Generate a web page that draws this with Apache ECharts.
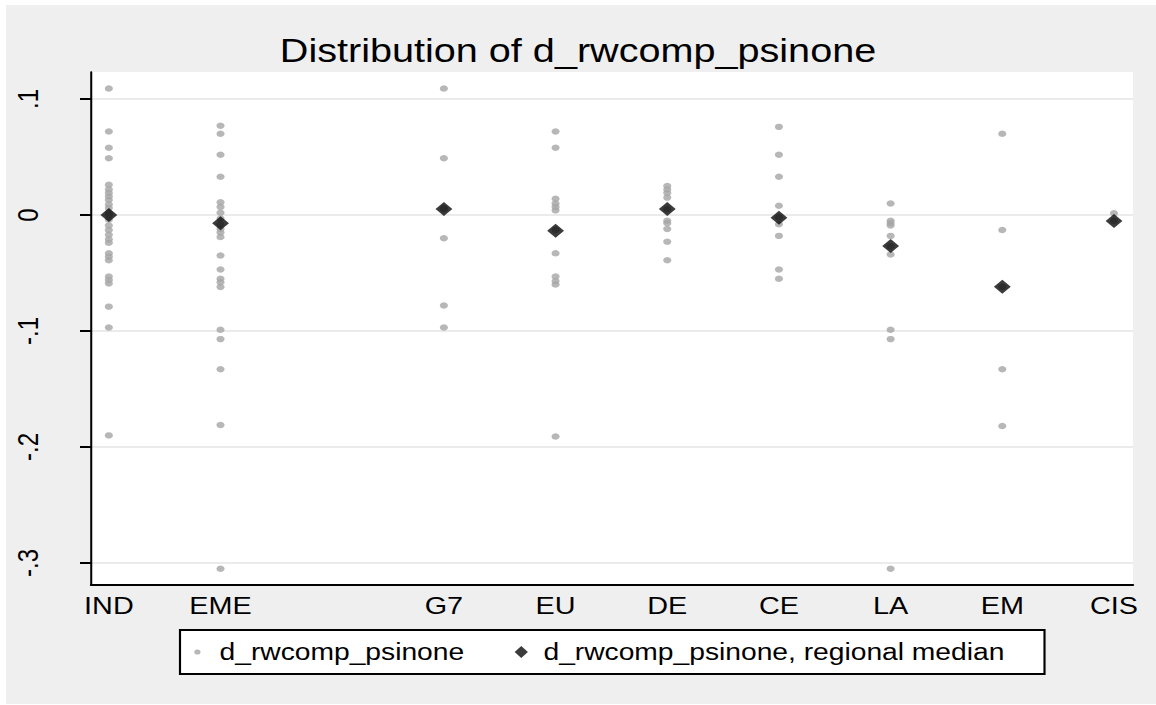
<!DOCTYPE html>
<html>
<head>
<meta charset="utf-8">
<title>Distribution of d_rwcomp_psinone</title>
<script src="https://cdn.jsdelivr.net/npm/echarts@6/dist/echarts.min.js"></script>
<style>
  html, body { margin: 0; padding: 0; background: #ffffff; }
  #frame { position: absolute; left: 6px; top: 5px; width: 1150px; height: 699px; background: #efefef; }
  #chart { position: absolute; left: 0; top: 0; width: 963px; height: 705px; transform-origin: 0 0; }
</style>
</head>
<body>
<div id="frame"></div>
<div id="chart"></div>
<script>
// Regions along the x axis (position 3 is left empty between EME and G7)
const categories = ['IND', 'EME', 'G7', 'EU', 'DE', 'CE', 'LA', 'EM', 'CIS'];
const categoryPos = [1, 2, 4, 5, 6, 7, 8, 9, 10];

// Country-level values of d_rwcomp_psinone by region
const valsIND = [0.109, 0.072, 0.058, 0.049, 0.026, 0.022, 0.019, 0.016, 0.013, 0.009, 0.006, 0.002,
                 0.000, -0.004, -0.009, -0.013, -0.017, -0.021, -0.024, -0.033, -0.036, -0.039,
                 -0.053, -0.056, -0.059, -0.079, -0.097, -0.190];
const valsEME = [0.077, 0.070, 0.052, 0.033, 0.011, 0.007, 0.002, -0.003, -0.008, -0.012, -0.015,
                 -0.019, -0.035, -0.047, -0.055, -0.058, -0.062, -0.099, -0.107, -0.133, -0.181, -0.305];
const valsG7  = [0.109, 0.049, 0.006, 0.005, -0.020, -0.078, -0.097];
const valsEU  = [0.072, 0.058, 0.014, 0.010, 0.007, 0.004, -0.013, -0.033, -0.053, -0.057, -0.060, -0.191];
const valsDE  = [0.025, 0.022, 0.019, 0.015, 0.005, -0.005, -0.007, -0.012, -0.023, -0.039];
const valsCE  = [0.076, 0.052, 0.033, 0.008, -0.002, -0.008, -0.018, -0.047, -0.055];
const valsLA  = [0.010, -0.005, -0.007, -0.009, -0.018, -0.027, -0.034, -0.099, -0.107, -0.305];
const valsEM  = [0.070, -0.013, -0.062, -0.133, -0.182];
const valsCIS = [0.0015, -0.005];

// Regional medians, one per region
const medians = [0.000, -0.0072, 0.0052, -0.0135, 0.0052, -0.0023, -0.0267, -0.0618, -0.0052];

// Y axis ticks and their printed labels
const yTicks = [0.1, 0, -0.1, -0.2, -0.3];
const yTickLabels = ['.1', '0', '-.1', '-.2', '-.3'];

const regionValues = [valsIND, valsEME, valsG7, valsEU, valsDE, valsCE, valsLA, valsEM, valsCIS];

const pointData = [];
regionValues.forEach((vals, i) => {
  vals.forEach(v => pointData.push([categoryPos[i], v]));
});
const medianData = medians.map((m, i) => [categoryPos[i], m]);

// The canvas is drawn narrower and widened horizontally
const SX = 1156 / 963;
document.getElementById('chart').style.transform = 'scaleX(' + SX + ')';
const hx = v => v / SX;

const FONT = '"Liberation Sans", Arial, Helvetica, sans-serif';
// Legend markers: a small dot inside a padded box, and a near-square diamond
const dotIcon = 'path://M0,0M12,12M8.6,6A2.6,2.6,0,1,0,3.4,6A2.6,2.6,0,1,0,8.6,6Z';
const diamondIcon = 'path://M5.5,0L11,6L5.5,12L0,6Z';

const chart = echarts.init(document.getElementById('chart'), null, { renderer: 'svg' });
chart.setOption({
  animation: false,
  backgroundColor: 'transparent',
  textStyle: { fontFamily: FONT },
  title: {
    text: 'Distribution of d_rwcomp_psinone',
    left: 'center',
    top: 29,
    textStyle: { fontFamily: FONT, fontSize: 33, fontWeight: 'normal', color: '#000' }
  },
  grid: {
    left: hx(91),
    top: 72,
    width: hx(1133 - 91),
    height: 513,
    show: true,
    backgroundColor: '#ffffff',
    borderColor: 'transparent',
    borderWidth: 0
  },
  legend: {
    left: hx(180),
    top: 630,
    orient: 'horizontal',
    padding: [10, hx(40), 10, 8.5],
    itemWidth: 27,
    itemHeight: 12,
    itemGap: 42,
    backgroundColor: '#ffffff',
    borderColor: '#000000',
    borderWidth: 1.8,
    selectedMode: false,
    textStyle: { fontFamily: FONT, fontSize: 23.5, color: '#000' },
    data: [
      { name: 'd_rwcomp_psinone', icon: dotIcon },
      { name: 'd_rwcomp_psinone, regional median', icon: diamondIcon }
    ]
  },
  xAxis: {
    type: 'value',
    min: 0.84,
    max: 10.17,
    axisLine: { show: true, onZero: false, lineStyle: { color: '#000', width: 2 } },
    axisTick: { show: false, customValues: categoryPos },
    axisLabel: {
      customValues: categoryPos,
      formatter: v => categories[categoryPos.indexOf(v)] || '',
      color: '#000',
      fontFamily: FONT,
      fontSize: 24,
      margin: 9
    },
    splitLine: { show: false }
  },
  yAxis: {
    type: 'value',
    min: -0.319,
    max: 0.1233,
    axisLine: { show: true, lineStyle: { color: '#000', width: 1.7 } },
    axisTick: {
      show: true,
      inside: false,
      length: hx(11),
      lineStyle: { color: '#000', width: 2 },
      customValues: yTicks
    },
    axisLabel: {
      customValues: yTicks,
      rotate: 90,
      formatter: v => {
        const k = yTicks.findIndex(t => Math.abs(t - v) < 1e-9);
        return k >= 0 ? yTickLabels[k] : '';
      },
      color: '#000',
      fontFamily: FONT,
      fontSize: 24,
      margin: 40
    },
    splitLine: { show: true, lineStyle: { color: '#e4e4e4', width: 1.5 } }
  },
  series: [
    {
      name: 'd_rwcomp_psinone',
      type: 'scatter',
      symbol: 'circle',
      symbolSize: [6.8, 6.4],
      itemStyle: { color: '#a5a5a5' },
      data: pointData,
      z: 2
    },
    {
      name: 'd_rwcomp_psinone, regional median',
      type: 'scatter',
      symbol: 'diamond',
      symbolSize: 14,
      itemStyle: { color: '#0a0a0a' },
      data: medianData,
      z: 3
    }
  ]
});
</script>
</body>
</html>
